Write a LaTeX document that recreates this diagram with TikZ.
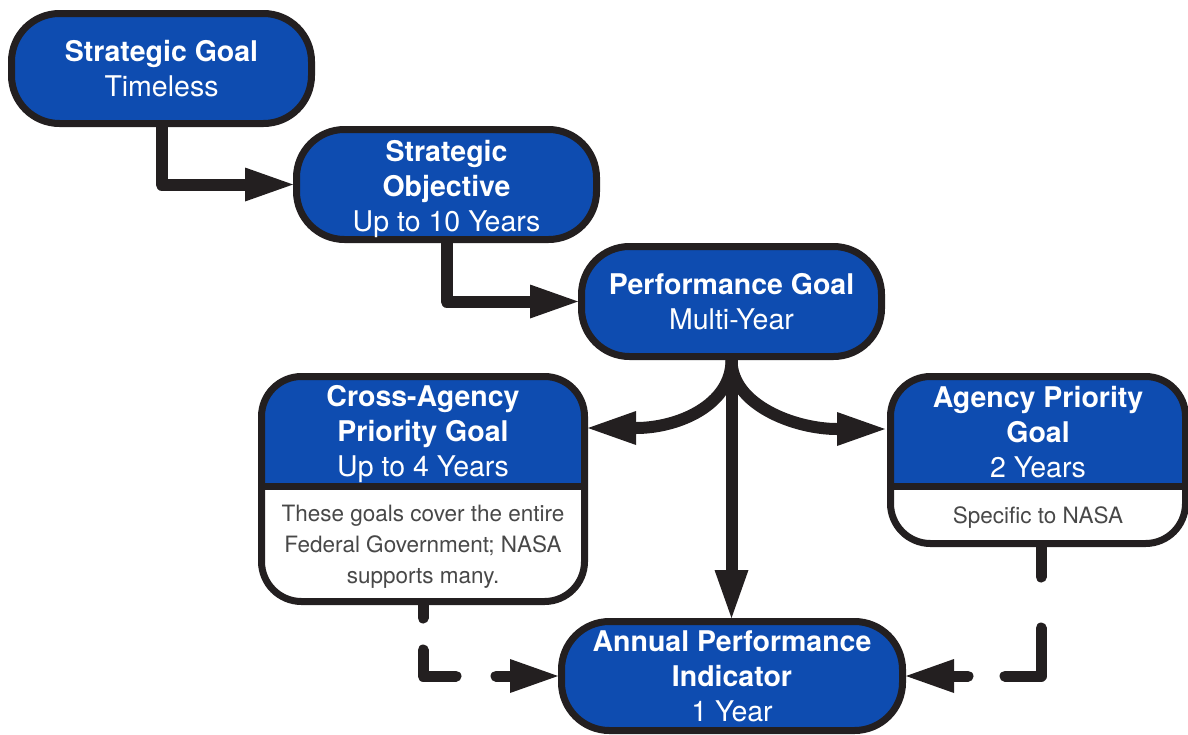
\documentclass[tikz,border=0pt]{standalone}
\usepackage{fontspec}
\setmainfont{TeX Gyre Heros}
\usetikzlibrary{arrows.meta,calc}
\definecolor{boxblue}{RGB}{14,76,176}
\definecolor{ink}{RGB}{35,31,32}
\definecolor{graytext}{RGB}{72,72,72}
\begin{document}
\begin{tikzpicture}[x=1pt,y=-1pt,
  pill/.style={draw=ink, line width=7pt, fill=boxblue, rounded corners=48pt,
    minimum width=300pt, minimum height=110pt, inner sep=0pt, text=white,
    align=center, font=\fontsize{28.5}{35}\selectfont},
  splitbox/.style={draw=ink, line width=7pt, fill=white, rounded corners=40pt, inner sep=0pt,
    path picture={
      \fill[boxblue, sharp corners] (path picture bounding box.north west) rectangle ($(path picture bounding box.north east)+(0,109.5)$);
      \draw[ink, line width=7pt, sharp corners] ($(path picture bounding box.north west)+(-10,109.5)$) -- ($(path picture bounding box.north east)+(10,109.5)$);
    }},
  head/.style={text=white, align=center, font=\fontsize{28.5}{35}\selectfont},
  body/.style={text=graytext, align=center, font=\fontsize{22.5}{31}\selectfont},
  link/.style={draw=ink, line width=12pt, line join=round,
    -{Triangle[length=48pt,width=34pt,line width=0pt]}},
  dlink/.style={draw=ink, line width=11pt, line cap=round, line join=round,
    -{Triangle[length=48pt,width=34pt,line width=0pt]}}
]
\useasboundingbox (0,0) rectangle (1188,734);

\node[pill] (sg) at (161.5,68.5) {\textbf{Strategic Goal}\\Timeless};
\node[pill, label={[head, yshift=-4pt]center:{\textbf{Strategic}\\\textbf{Objective}\\Up to 10 Years}}] (so) at (446.5,184.5) {};
\node[pill] (pg) at (731.5,301.5) {\textbf{Performance Goal}\\Multi-Year};
\node[pill, minimum width=341pt, minimum height=109pt] (api) at (732,676)
  {\textbf{Annual Performance}\\\textbf{Indicator}\\1 Year};

\node[splitbox, minimum width=323pt, minimum height=225pt] (cap) at (423,489) {};
\node[splitbox, minimum width=295pt, minimum height=167pt] (apg) at (1038,460) {};

\node[head] (caphead) at (423,434) {\textbf{Cross-Agency}\\\textbf{Priority Goal}\\Up to 4 Years};
\node[body] (capbody) at (423,547) {These goals cover the entire\\Federal Government; NASA\\supports many.};
\node[head] (apghead) at (1038,432) {\textbf{Agency Priority}\\\textbf{Goal}\\2 Years};
\node[body] (apgbody) at (1038,518) {Specific to NASA};

\draw[link] (sg.south) |- (so.west);
\draw[link] (so.south) |- (pg.west);
\draw[link] (pg.south) -- (pg.south |- api.north);
\coordinate (ltip) at ($(cap.east)+(0,-61)$);
\coordinate (rtip) at ($(apg.west)+(-2,-31)$);
\draw[link] (pg.south) .. controls +(0,45) and +(90,0) .. (ltip);
\draw[link] (pg.south) .. controls +(0,45) and +(-90,0) .. (rtip);

\draw[dlink, dash pattern=on 13pt off 32pt on 59pt off 40pt on 200pt] (cap.south) |- (api.west);
\coordinate (rstart) at ($(apg.south)+(3,0)$);
\draw[dlink, dash pattern=on 30pt off 51pt on 84pt off 37pt on 200pt] (rstart) |- (api.east);
\end{tikzpicture}
\end{document}
